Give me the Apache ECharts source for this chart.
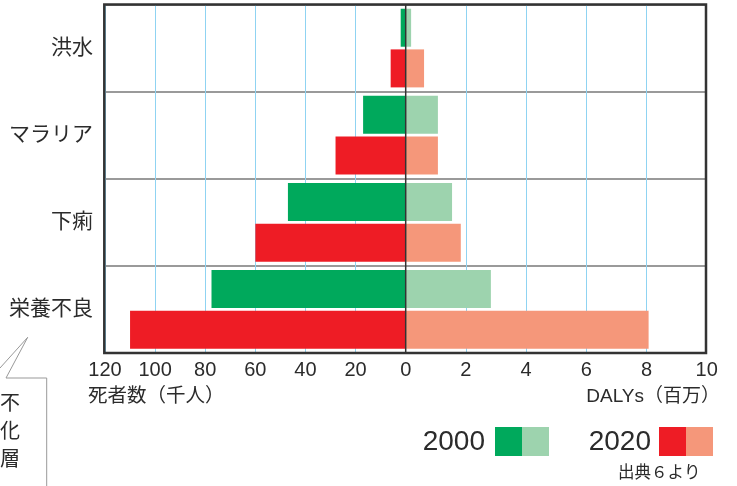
<!DOCTYPE html>
<html><head><meta charset="utf-8">
<script src="https://cdn.jsdelivr.net/npm/echarts@6/dist/echarts.min.js"></script>
<style>html,body{margin:0;padding:0;background:#fff}#c{width:737px;height:486px}</style>
</head><body><div id="c"></div>
<script>
const categories = ['栄養不良', '下痢', 'マラリア', '洪水'];
const deaths2000 = [77.5, 47, 17, 2];
const deaths2020 = [110, 60, 28, 6];
const dalys2000 = [2.83, 1.54, 1.07, 0.18];
const dalys2020 = [8.07, 1.83, 1.07, 0.61];
const leftAxisName = '死者数（千人）';
const rightAxisName = 'DALYs（百万）';
const legendYears = ['2000', '2020'];
const sourceText = '出典６より';
const calloutChars = ['不', '化', '層'];

const FONT = '"Liberation Sans", "Noto Sans CJK JP", sans-serif';
const TXT = '#2b2b2b';
const C2000 = '#00a95c', C2000L = '#9dd3ae', C2020 = '#ee1c25', C2020L = '#f5977a';

const chart = echarts.init(document.getElementById('c'), null, {renderer: 'canvas'});
const gTop = 4.5, gH = 348.5;
const axisCommon = {
  axisLine: {show: false}, axisTick: {show: false},
  splitLine: {show: true, lineStyle: {color: '#8fd3f2', width: 1}},
  axisLabel: {fontSize: 20, color: TXT, margin: 7, fontFamily: FONT}
};
const catCommon = {
  type: 'category', data: categories,
  axisLine: {show: false}, axisTick: {show: false},
  splitLine: {show: true, lineStyle: {color: '#9a9a9a', width: 2}}
};
const option = {
  animation: false,
  backgroundColor: '#fff',
  grid: [
    {left: 105, top: gTop, width: 300.7, height: gH},
    {left: 405.7, top: gTop, width: 301, height: gH}
  ],
  xAxis: [
    Object.assign({gridIndex: 0, type: 'value', inverse: true, min: 0, max: 120, interval: 20}, axisCommon),
    Object.assign({gridIndex: 1, type: 'value', min: 0, max: 10, interval: 2}, axisCommon,
      {axisLabel: Object.assign({}, axisCommon.axisLabel, {showMinLabel: false})})
  ],
  yAxis: [
    Object.assign({gridIndex: 0}, catCommon, {axisLabel: {fontSize: 21, color: TXT, margin: 12, fontFamily: FONT}}),
    Object.assign({gridIndex: 1}, catCommon, {axisLabel: {show: false}})
  ],
  series: [
    {type: 'bar', name: '2000', xAxisIndex: 0, yAxisIndex: 0, data: deaths2000, barWidth: 38, barGap: '7%', itemStyle: {color: C2000}},
    {type: 'bar', name: '2020', xAxisIndex: 0, yAxisIndex: 0, data: deaths2020, barWidth: 38, barGap: '7%', itemStyle: {color: C2020}},
    {type: 'bar', name: '2000', xAxisIndex: 1, yAxisIndex: 1, data: dalys2000, barWidth: 38, barGap: '7%', itemStyle: {color: C2000L}},
    {type: 'bar', name: '2020', xAxisIndex: 1, yAxisIndex: 1, data: dalys2020, barWidth: 38, barGap: '7%', itemStyle: {color: C2020L}}
  ],
  graphic: [
    {type: 'rect', z: 100, shape: {x: 104.3, y: 4.5, width: 601.7, height: 348.5}, style: {fill: null, stroke: '#333', lineWidth: 2.5}},
    {type: 'line', z: 100, shape: {x1: 405.7, y1: 4.5, x2: 405.7, y2: 353}, style: {stroke: '#333', lineWidth: 1.5}},
    {type: 'polyline', z: 100, shape: {points: [[0, 368], [27.7, 337.3], [6, 378], [46.7, 378], [46.7, 490]]}, style: {fill: null, stroke: '#999', lineWidth: 1}},
    ...calloutChars.map((ch, i) => ({type: 'text', z: 100, style: {text: ch, x: 10, y: 404 + i * 28, align: 'center', verticalAlign: 'middle', font: '20px ' + FONT, fill: TXT}})),
    {type: 'text', z: 100, style: {text: leftAxisName, x: 88, y: 397, align: 'left', verticalAlign: 'middle', font: '19.5px ' + FONT, fill: TXT}},
    {type: 'text', z: 100, style: {text: rightAxisName, x: 720, y: 397, align: 'right', verticalAlign: 'middle', font: '19px ' + FONT, fill: TXT}},
    {type: 'text', z: 100, style: {text: legendYears[0], x: 485, y: 442, align: 'right', verticalAlign: 'middle', font: '28px ' + FONT, fill: TXT}},
    {type: 'rect', z: 100, shape: {x: 495, y: 427, width: 27, height: 29}, style: {fill: C2000}},
    {type: 'rect', z: 100, shape: {x: 522, y: 427, width: 27, height: 29}, style: {fill: C2000L}},
    {type: 'text', z: 100, style: {text: legendYears[1], x: 651, y: 442, align: 'right', verticalAlign: 'middle', font: '28px ' + FONT, fill: TXT}},
    {type: 'rect', z: 100, shape: {x: 659, y: 427, width: 27, height: 29}, style: {fill: C2020}},
    {type: 'rect', z: 100, shape: {x: 686, y: 427, width: 27, height: 29}, style: {fill: C2020L}},
    {type: 'text', z: 100, style: {text: sourceText, x: 618, y: 473, align: 'left', verticalAlign: 'middle', font: '16.5px ' + FONT, fill: TXT}}
  ]
};
chart.setOption(option);
</script>
</body></html>
